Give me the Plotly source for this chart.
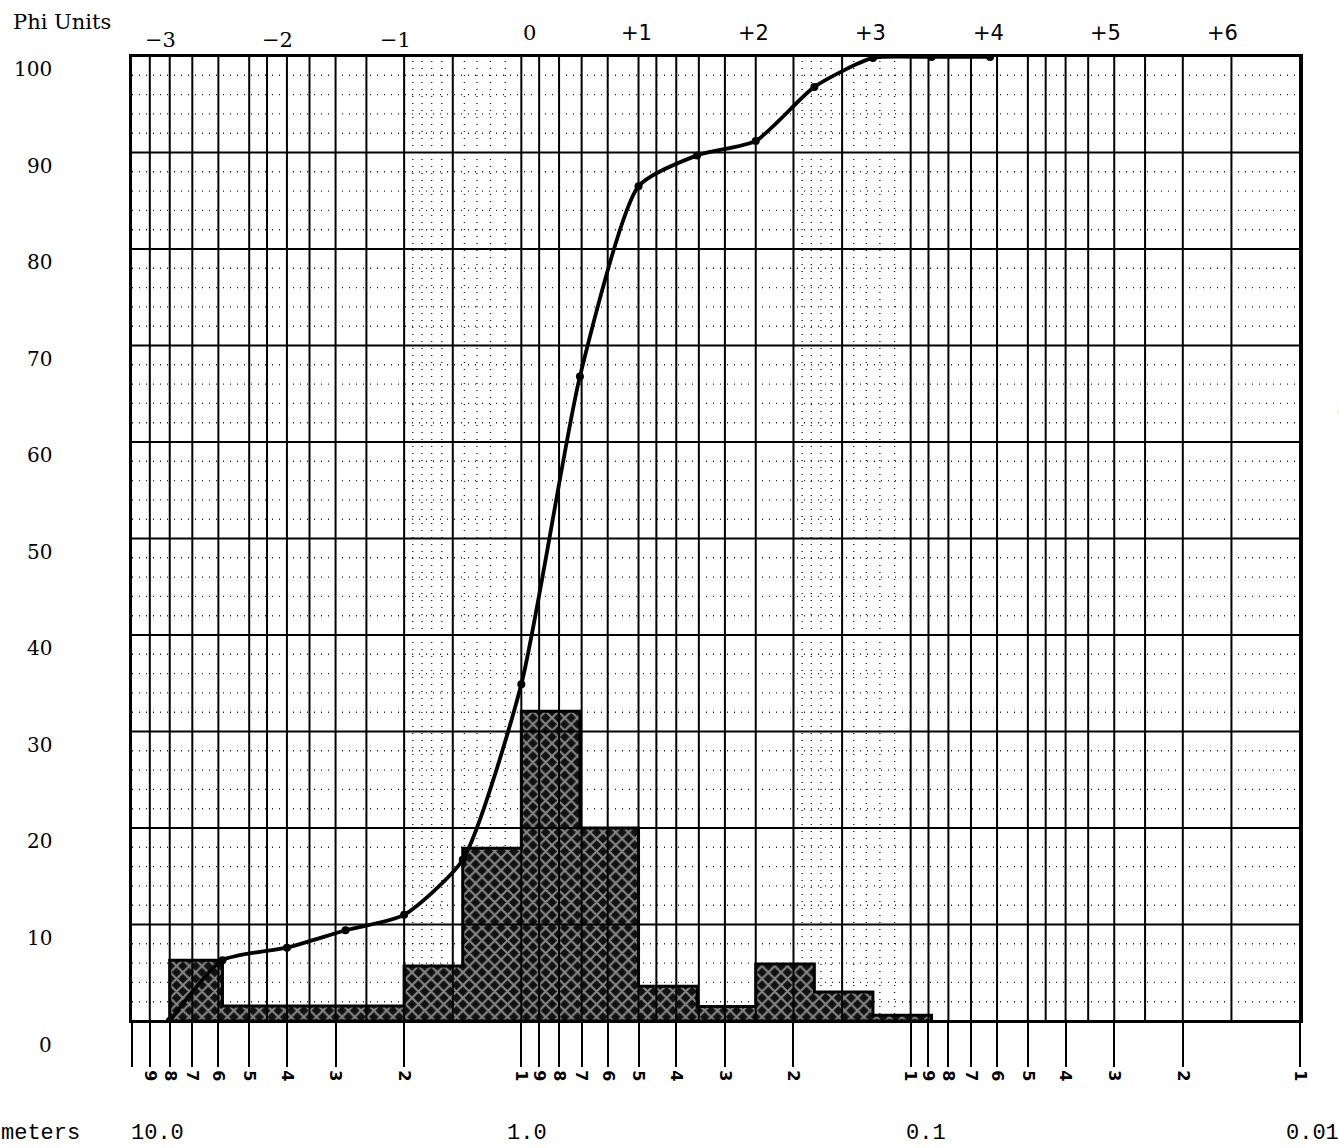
import math
import plotly.graph_objects as go

# ---------------- data ----------------
phi_edges = [-3.0, -2.55, -2.0, -1.5, -1.0, -0.5, 0.0, 0.5, 1.0, 1.5, 2.0, 2.5, 3.0, 3.5]
weight_pct = [6.3, 1.55, 1.55, 1.55, 5.7, 17.9, 32.1, 20.0, 3.6, 1.5, 5.9, 3.0, 0.6]

cum_phi = [-3.0, -2.55, -2.0, -1.5, -1.0, -0.5, 0.0, 0.5, 1.0, 1.5, 2.0, 2.5, 3.0, 3.5, 4.0]
cum_pct = [0.0, 6.3, 7.6, 9.4, 11.0, 16.7, 34.9, 66.8, 86.5, 89.7, 91.2, 96.8, 99.8, 99.9, 99.9]

phi_label_vals = [-3, -2, -1, 0, 1, 2, 3, 4, 5, 6]
phi_label_text = ["\u22123", "\u22122", "\u22121", "0", "+1", "+2", "+3", "+4", "+5", "+6"]

y_label_vals = [0, 10, 20, 30, 40, 50, 60, 70, 80, 90, 100]

mm_label_vals = [10.0, 1.0, 0.1, 0.01]
mm_label_text = ["10.0", "1.0", "0.1", "0.01"]

decade_bases = [1.0, 0.1, 0.01]
tick_digits = [9, 8, 7, 6, 5, 4, 3, 2, 1]
solid_mult = [1, 1.5, 2, 2.5, 3, 3.5, 4, 4.5, 5, 6, 7, 8, 9]
dotted_mult = [1.1, 1.2, 1.3, 1.4, 1.6, 1.7, 1.8, 1.9]

# ---------------- layout geometry ----------------
W, H = 1339, 1148
L, R, T, B = 132, 1300, 56, 1021


def pxx(px):
    return (px - L) / (R - L)


def pxy(py):
    return (B - py) / (B - T)


def mm(phi):
    return 2.0 ** (-phi)


fig = go.Figure()

# dotted grid (horizontal every 2 %, vertical fine subdivisions)
dx, dy = [], []
for v in range(0, 101, 2):
    if v % 10:
        dx += [10, 0.01, None]
        dy += [v, v, None]
for b in decade_bases[:2]:
    for m in dotted_mult:
        dx += [b * m, b * m, None]
        dy += [0, 100, None]
fig.add_trace(go.Scatter(x=dx, y=dy, mode="lines", hoverinfo="skip",
                         line=dict(color="rgba(0,0,0,0.85)", width=1.4, dash="1px,6px"),
                         showlegend=False))

# histogram as step polygon
hx = [mm(phi_edges[0])]
hy = [0]
for i, h in enumerate(weight_pct):
    hx += [mm(phi_edges[i]), mm(phi_edges[i + 1])]
    hy += [h, h]
hx += [mm(phi_edges[-1]), mm(phi_edges[0])]
hy += [0, 0]
fig.add_trace(go.Scatter(x=hx, y=hy, mode="lines", fill="toself",
                         fillcolor="black",
                         fillpattern=dict(shape="x", size=9, solidity=0.4,
                                          fgcolor="white", bgcolor="#111111"),
                         line=dict(color="black", width=3),
                         hoverinfo="skip", showlegend=False))

# solid grid
sx, sy = [], []
for v in range(0, 101, 10):
    sx += [10, 0.01, None]
    sy += [v, v, None]
for b in decade_bases:
    for m in solid_mult:
        val = b * m
        if 0.01 <= val <= 10:
            sx += [val, val, None]
            sy += [0, 100, None]
fig.add_trace(go.Scatter(x=sx, y=sy, mode="lines", hoverinfo="skip",
                         line=dict(color="black", width=2), showlegend=False))

# cumulative curve
fig.add_trace(go.Scatter(x=[mm(p) for p in cum_phi], y=cum_pct,
                         mode="lines+markers",
                         line=dict(color="black", width=3.8, shape="spline", smoothing=0.6),
                         marker=dict(color="black", size=8),
                         hoverinfo="skip", showlegend=False))

# x ticks (below the paper)
tickvals, ticktext = [10.0], [""]
for b in decade_bases:
    for d in tick_digits:
        tickvals.append(b * d)
        ticktext.append(f"<b>{d}</b>")

fig.update_layout(
    width=W, height=H,
    margin=dict(l=L, r=W - R, t=T, b=H - B),
    paper_bgcolor="white", plot_bgcolor="white",
    xaxis=dict(type="log", range=[1, -2], showgrid=False, zeroline=False,
               showline=True, linecolor="black", linewidth=2, mirror=True,
               ticks="outside", ticklen=44, tickwidth=2, tickcolor="black",
               tickvals=tickvals, ticktext=ticktext, tickangle=90,
               tickfont=dict(family="DejaVu Sans", size=16, color="black")),
    yaxis=dict(range=[0, 100], showgrid=False, zeroline=False,
               showline=True, linecolor="black", linewidth=3, mirror=True,
               showticklabels=False, ticks=""),
)

ann = []
# y labels
for v in y_label_vals:
    ann.append(dict(x=pxx(54), xref="paper", y=v, yref="y", xanchor="right",
                    yanchor="middle", yshift=-24 if v == 0 else -13,
                    text=str(v), showarrow=False,
                    font=dict(family="DejaVu Serif", size=20, color="black")))
# phi labels
for v, t in zip(phi_label_vals, phi_label_text):
    shift = -9 if v < 0 else (8 if v == 0 else -2)
    ann.append(dict(x=math.log10(mm(v)), xref="x", y=pxy(40 if v < 0 else 33), yref="paper",
                    xshift=shift, text=t, showarrow=False, xanchor="center", yanchor="middle",
                    font=dict(family="DejaVu Serif" if v <= 0 else "DejaVu Sans",
                              size=21, color="black")))
ann.append(dict(x=pxx(11), xref="paper", y=pxy(22), yref="paper", xanchor="left",
                yanchor="middle", text="Phi Units", showarrow=False,
                font=dict(family="DejaVu Serif", size=21, color="black")))
# mm labels
shifts = {10.0: 25, 1.0: 6, 0.1: 15, 0.01: 12}
for v, t in zip(mm_label_vals, mm_label_text):
    ann.append(dict(x=math.log10(v), xref="x", y=pxy(1133), yref="paper",
                    xshift=shifts[v], text=t, showarrow=False, xanchor="center",
                    yanchor="middle",
                    font=dict(family="Liberation Mono", size=22, color="black")))
ann.append(dict(x=pxx(82), xref="paper", y=pxy(1133), yref="paper", xanchor="right",
                yanchor="middle", text="Millimeters", showarrow=False,
                font=dict(family="Liberation Mono", size=22, color="black")))
# scan speck at right edge
ann.append(dict(x=pxx(1336), xref="paper", y=pxy(410), yref="paper", xanchor="left",
                yanchor="middle", text="c", showarrow=False,
                font=dict(family="DejaVu Serif", size=20, color="black")))
fig.update_layout(annotations=ann)

fig.write_html("out.html", config={"displayModeBar": False},
               post_script="document.body.style.margin='0px';document.body.style.overflow='hidden';")
